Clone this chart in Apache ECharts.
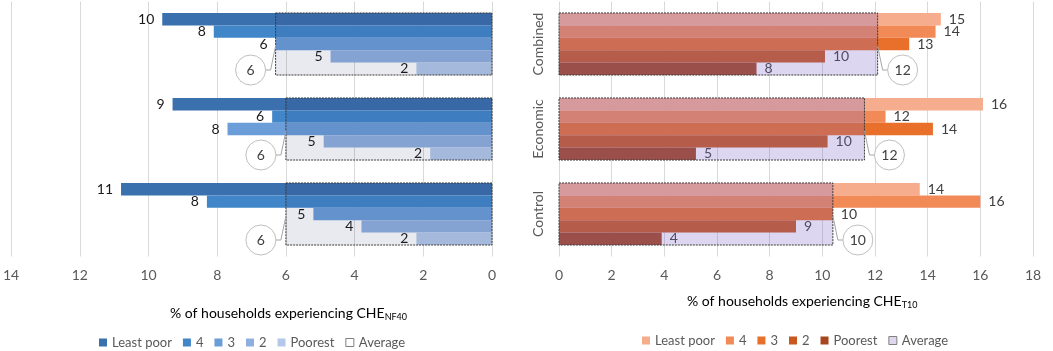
<!DOCTYPE html>
<html>
<head>
<meta charset="utf-8">
<script src="https://cdn.jsdelivr.net/npm/echarts/dist/echarts.min.js"></script>
<style>
  html, body { margin: 0; padding: 0; background: #fff; }
  #chart { width: 1053px; height: 351px; }
</style>
</head>
<body>
<div id="chart"></div>
<script>
// groups, top to bottom
var groups = ["Combined", "Economic", "Control"];
var quintiles = ["Least poor", "4", "3", "2", "Poorest"];

// CHE NF40 (left panel), % of households
var leastPoorNF = [9.6, 9.3, 10.8];
var q4NF = [8.1, 6.4, 8.3];
var q3NF = [6.3, 7.7, 5.2];
var q2NF = [4.7, 4.9, 3.8];
var poorestNF = [2.2, 1.8, 2.2];
var avgNF = [6.3, 6.0, 6.0];

// CHE T10 (right panel), % of households
var leastPoorT = [14.5, 16.1, 13.7];
var q4T = [14.3, 12.4, 16.0];
var q3T = [13.3, 14.2, 10.4];
var q2T = [10.1, 10.2, 9.0];
var poorestT = [7.5, 5.2, 3.9];
var avgT = [12.1, 11.6, 10.4];

var ticksNF = [0, 14, 2];
var ticksT = [0, 18, 2];

var FONT = "Lato";
var blues = ["#3a70ad", "#4186c9", "#6b9dd8", "#8fb0df", "#b4c9e9"];
var oranges = ["#f6ad8e", "#f28a57", "#e8702a", "#c8581e", "#a5461e"];

var chart = echarts.init(document.getElementById("chart"));

function barSeries(prefix, name, values, color, axis, side) {
  return {
    name: prefix + name,
    type: "bar",
    xAxisIndex: axis,
    yAxisIndex: axis,
    data: values,
    barGap: "0%",
    barCategoryGap: "27%",
    itemStyle: { color: color },
    label: {
      show: true,
      position: side,
      distance: 8,
      fontFamily: FONT,
      fontSize: 14,
      color: side === "left" ? "#1a1a1a" : "#404040",
      formatter: function (p) { return Math.round(p.value); }
    },
    z: 2
  };
}

function avgSeries(prefix, values, axis, dir, fill) {
  return {
    name: prefix + "Average",
    type: "custom",
    xAxisIndex: axis,
    yAxisIndex: axis,
    data: values.map(function (v, i) { return [v, i]; }),
    encode: { x: 0, y: 1 },
    z: 3,
    renderItem: function (params, api) {
      var v = api.value(0);
      var idx = api.value(1);
      var end = api.coord([v, idx]);
      var start = api.coord([0, idx]);
      var bandH = api.size([0, 1])[1];
      var gh = bandH * 0.73;
      var cy = end[1];
      var ex = end[0];
      var x0 = Math.min(start[0], ex);
      var w = Math.abs(ex - start[0]);
      var ly = cy + 26;
      var ccx = ex + dir * 25;
      return {
        type: "group",
        children: [
          {
            type: "rect",
            shape: { x: x0, y: cy - gh / 2, width: w, height: gh },
            style: { fill: fill, stroke: "#3a3a3a", lineWidth: 1, lineDash: [2, 1] },
            z2: 0
          },
          {
            type: "polyline",
            shape: { points: [[ex, cy + 2], [ex + dir * 5, ly], [ex + dir * 10, ly]] },
            style: { fill: null, stroke: "#a6a6a6", lineWidth: 1 },
            z2: 5
          },
          {
            type: "circle",
            shape: { cx: ccx, cy: ly, r: 15 },
            style: { fill: "#ffffff", stroke: "#bfbfbf", lineWidth: 1 },
            z2: 5
          },
          {
            type: "text",
            style: {
              text: String(Math.round(v)), x: ccx, y: ly,
              align: "center", verticalAlign: "middle",
              fontFamily: FONT, fontSize: 14, fill: "#404040"
            },
            z2: 6
          }
        ]
      };
    }
  };
}

var nfValues = [leastPoorNF, q4NF, q3NF, q2NF, poorestNF];
var tValues = [leastPoorT, q4T, q3T, q2T, poorestT];
var series = [];
quintiles.forEach(function (q, i) {
  series.push(barSeries("L:", q, nfValues[i], blues[i], 0, "left"));
});
series.push(avgSeries("L:", avgNF, 0, -1, "rgba(40,50,110,0.10)"));
quintiles.forEach(function (q, i) {
  series.push(barSeries("R:", q, tValues[i], oranges[i], 1, "right"));
});
series.push(avgSeries("R:", avgT, 1, 1, "rgba(130,105,200,0.27)"));

function legendData(prefix, colors, avgFill) {
  var d = quintiles.map(function (q, i) {
    return { name: prefix + q, itemStyle: { color: colors[i] } };
  });
  d.push({ name: prefix + "Average", itemStyle: { color: avgFill, borderColor: "#7f7f7f", borderWidth: 1 } });
  return d;
}

var xAxisCommon = {
  type: "value",
  axisLine: { show: false },
  axisTick: { show: false },
  splitLine: { show: true, lineStyle: { color: "#d9d9d9", width: 1 } },
  axisLabel: { fontFamily: FONT, fontSize: 14, color: "#595959", margin: 12 }
};

var legendCommon = {
  icon: "rect", itemWidth: 8, itemHeight: 8, itemGap: 11,
  textStyle: { fontFamily: FONT, fontSize: 13, color: "#595959" },
  formatter: function (n) { return n.slice(2); },
  selectedMode: false
};

var option = {
  animation: false,
  backgroundColor: "#ffffff",
  grid: [
    { left: 7, right: 561, top: 1.5, height: 255 },
    { left: 559, right: 20, top: 1.5, height: 255 }
  ],
  xAxis: [
    Object.assign({}, xAxisCommon, { gridIndex: 0, inverse: true, min: ticksNF[0], max: ticksNF[1], interval: ticksNF[2] }),
    Object.assign({}, xAxisCommon, { gridIndex: 1, min: ticksT[0], max: ticksT[1], interval: ticksT[2] })
  ],
  yAxis: [
    {
      type: "category", gridIndex: 0, data: groups, inverse: true,
      axisLine: { show: false }, axisTick: { show: false }, axisLabel: { show: false }
    },
    {
      type: "category", gridIndex: 1, data: groups, inverse: true,
      axisLine: { show: false }, axisTick: { show: false },
      axisLabel: { rotate: 90, fontFamily: FONT, fontSize: 14, color: "#595959", margin: 14 }
    }
  ],
  legend: [
    Object.assign({}, legendCommon, { left: 94, top: 331, data: legendData("L:", blues, "#ffffff") }),
    Object.assign({}, legendCommon, { left: 637, top: 329, data: legendData("R:", oranges, "#e0d7ef") })
  ],
  graphic: [
    {
      type: "text", left: 170, top: 306,
      style: {
        text: "{a|% of households experiencing CHE}{s|NF40}",
        rich: {
          a: { fontFamily: FONT, fontSize: 14, color: "#595959" },
          s: { fontFamily: FONT, fontSize: 9, color: "#595959", padding: [9, 0, 0, 0] }
        }
      }
    },
    {
      type: "text", left: 687, top: 294,
      style: {
        text: "{a|% of households experiencing CHE}{s|T10}",
        rich: {
          a: { fontFamily: FONT, fontSize: 14, color: "#595959" },
          s: { fontFamily: FONT, fontSize: 9, color: "#595959", padding: [9, 0, 0, 0] }
        }
      }
    }
  ],
  series: series
};

chart.setOption(option);
</script>
</body>
</html>
